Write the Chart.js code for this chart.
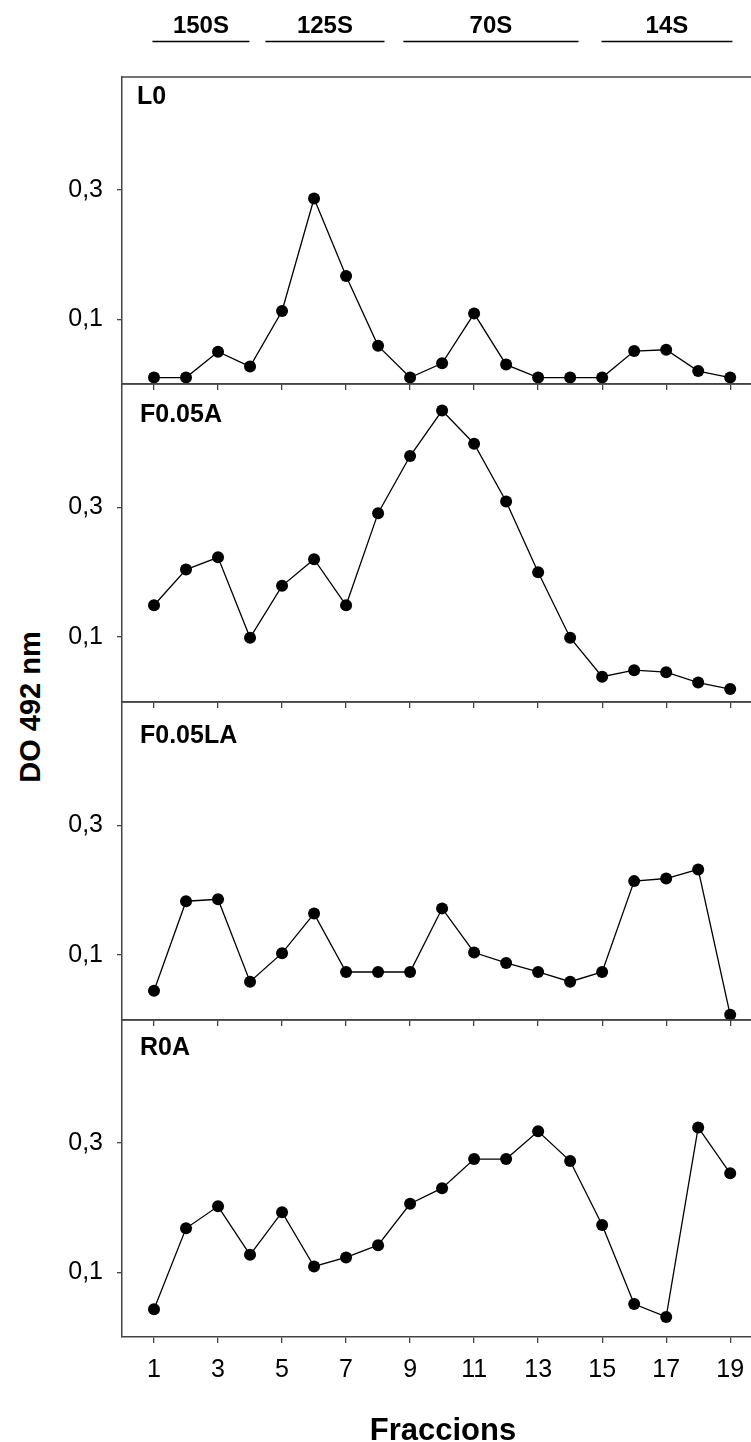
<!DOCTYPE html>
<html>
<head>
<meta charset="utf-8">
<script src="https://cdn.jsdelivr.net/npm/chart.js@4.4.1/dist/chart.umd.min.js"></script>
<style>
  html, body { margin: 0; padding: 0; background: #fff; }
  body { width: 751px; height: 1442px; position: relative; overflow: hidden; }
  canvas { position: absolute; left: 0; }
  #ytitle {
    position: absolute; left: 30px; top: 707px;
    transform: translate(-50%, -50%) rotate(-90deg);
    font: bold 29px "Liberation Sans", Arial, sans-serif;
    color: #000; white-space: nowrap;
  }
</style>
</head>
<body>
<div id="ytitle">DO 492 nm</div>
<canvas id="c0"></canvas>
<canvas id="c1"></canvas>
<canvas id="c2"></canvas>
<canvas id="c3"></canvas>
<script>
  const fractions = [1, 2, 3, 4, 5, 6, 7, 8, 9, 10, 11, 12, 13, 14, 15, 16, 17, 18, 19];
  const l0     = [0.010, 0.010, 0.050, 0.027, 0.113, 0.287, 0.167, 0.059, 0.010, 0.032, 0.109, 0.030, 0.010, 0.010, 0.010, 0.051, 0.053, 0.020, 0.010];
  const f005a  = [0.149, 0.204, 0.223, 0.099, 0.179, 0.220, 0.149, 0.291, 0.379, 0.449, 0.398, 0.309, 0.200, 0.099, 0.039, 0.049, 0.046, 0.030, 0.020];
  const f005la = [0.045, 0.183, 0.186, 0.059, 0.103, 0.164, 0.074, 0.074, 0.074, 0.172, 0.104, 0.088, 0.074, 0.059, 0.074, 0.214, 0.218, 0.232, 0.008];
  const r0a    = [0.043, 0.168, 0.202, 0.127, 0.193, 0.109, 0.123, 0.142, 0.206, 0.230, 0.275, 0.275, 0.318, 0.272, 0.173, 0.051, 0.031, 0.324, 0.253];

  const panelNames = ['L0', 'F0.05A', 'F0.05LA', 'R0A'];
  const series = [l0, f005a, f005la, r0a];
  const yMax = [0.475, 0.49, 0.49, 0.49];
  const yTicks = [0.1, 0.3];
  const xTicks = [1, 3, 5, 7, 9, 11, 13, 15, 17, 19];

  // sedimentation markers above the plot (fraction ranges)
  const markerLabels = ['150S', '125S', '70S', '14S'];
  const markerFrom = [0.95, 4.48, 8.79, 14.98];
  const markerTo = [3.98, 8.20, 14.26, 19.07];

  const FONT = '"Liberation Sans", Arial, sans-serif';
  const AXIS = '#444';
  const borders = [77, 384, 702, 1020, 1337];
  const labelX = [137, 140, 140, 140];
  const labelDy = [27, 38, 41, 35];

  function noPad(a) {
    a.paddingTop = 0; a.paddingBottom = 0;
    a.paddingLeft = 0; a.paddingRight = 0;
  }

  function panelPlugin(i) {
    return {
      id: 'panel' + i,
      afterDraw(chart) {
        const ctx = chart.ctx;
        const area = chart.chartArea;
        ctx.save();
        // top frame line
        ctx.strokeStyle = AXIS;
        ctx.lineWidth = 1.5;
        ctx.beginPath();
        ctx.moveTo(area.left, area.top);
        ctx.lineTo(area.right, area.top);
        ctx.stroke();
        // panel name
        ctx.fillStyle = '#000';
        ctx.font = 'bold 25px ' + FONT;
        ctx.textAlign = 'left';
        ctx.textBaseline = 'alphabetic';
        ctx.fillText(panelNames[i], labelX[i], area.top + labelDy[i]);
        // markers on the first panel
        if (i === 0) {
          const x = chart.scales.x;
          ctx.font = 'bold 24px ' + FONT;
          ctx.textAlign = 'center';
          ctx.strokeStyle = '#000';
          ctx.lineWidth = 1.3;
          markerLabels.forEach((m, k) => {
            const x1 = x.getPixelForValue(markerFrom[k]);
            const x2 = x.getPixelForValue(markerTo[k]);
            ctx.beginPath();
            ctx.moveTo(x1, 41.5);
            ctx.lineTo(x2, 41.5);
            ctx.stroke();
            ctx.fillText(m, (x1 + x2) / 2, 33);
          });
        }
        // x axis title on the last panel
        if (i === 3) {
          ctx.font = 'bold 31px ' + FONT;
          ctx.textAlign = 'center';
          ctx.fillText('Fraccions', 443, area.bottom + 103);
        }
        ctx.restore();
      }
    };
  }

  function makePanel(i) {
    const canvas = document.getElementById('c' + i);
    const isLast = i === 3;
    const top = i === 0 ? 0 : borders[i] - 12;
    const xh = isLast ? 105 : 10;
    canvas.width = 751;
    canvas.height = borders[i + 1] - top + xh;
    canvas.style.top = top + 'px';

    new Chart(canvas, {
      type: 'line',
      data: {
        datasets: [{
          data: fractions.map((f, k) => ({ x: f, y: series[i][k] })),
          borderColor: '#000',
          borderWidth: 1.3,
          pointRadius: 6,
          pointBackgroundColor: '#000',
          pointBorderWidth: 0,
          tension: 0,
          clip: false
        }]
      },
      options: {
        responsive: false,
        animation: false,
        layout: { autoPadding: false, padding: { top: borders[i] - top, left: 0, right: 0, bottom: 0 } },
        plugins: { legend: { display: false }, tooltip: { enabled: false } },
        scales: {
          x: {
            type: 'linear', min: 0, max: 19.65,
            afterBuildTicks: a => { a.ticks = xTicks.map(v => ({ value: v })); },
            afterFit: a => { a.height = xh; noPad(a); },
            grid: { drawOnChartArea: false, drawTicks: true, tickLength: 6, color: AXIS, lineWidth: 1.3 },
            border: { display: true, color: AXIS, width: 1.5 },
            ticks: { display: isLast, color: '#000', font: { family: FONT, size: 25 }, padding: 12, maxRotation: 0, autoSkip: false }
          },
          y: {
            min: 0, max: yMax[i],
            afterBuildTicks: a => { a.ticks = yTicks.map(v => ({ value: v })); },
            afterFit: a => { a.width = 122; noPad(a); },
            grid: { drawOnChartArea: false, drawTicks: true, tickLength: 5, color: AXIS, lineWidth: 1.3 },
            border: { display: true, color: AXIS, width: 1.5 },
            ticks: { color: '#000', font: { family: FONT, size: 25 }, padding: 14, callback: v => v.toFixed(1).replace('.', ',') }
          }
        }
      },
      plugins: [panelPlugin(i)]
    });
  }

  [0, 1, 2, 3].forEach(makePanel);
</script>
</body>
</html>
